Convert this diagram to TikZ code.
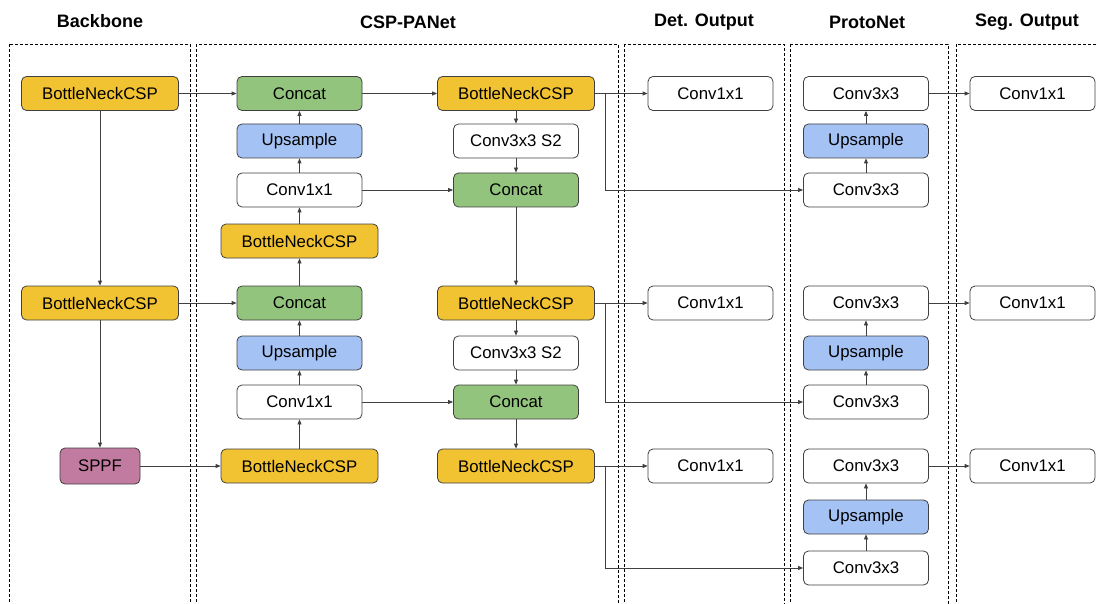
\documentclass[tikz,border=0pt]{standalone}
\usepackage{fontspec}
\setmainfont{Liberation Sans}
\usepackage{xcolor}
\usetikzlibrary{arrows.meta}

\definecolor{cspyellow}{HTML}{F1C232}
\definecolor{catgreen}{HTML}{93C47D}
\definecolor{upblue}{HTML}{A4C2F4}
\definecolor{sppfpink}{HTML}{C27BA0}
\definecolor{linegray}{HTML}{404040}

\begin{document}
\begin{tikzpicture}[x=1pt,y=-1pt]
            \tikzset{block/.style = {draw=linegray, line width=0.8pt, rounded corners=5pt, minimum width=125pt, minimum height=34pt, inner sep=0pt, font=\fontsize{16.8}{20}\selectfont}}
            \tikzset{csp/.style = {block, fill=cspyellow, minimum width=157pt}}
            \tikzset{concat/.style = {block, fill=catgreen}}
            \tikzset{upsample/.style = {block, fill=upblue}}
            \tikzset{conv/.style = {block, fill=white}}
            \tikzset{edge/.style = {draw=linegray, line width=0.8pt, -{Triangle[length=5pt,width=4pt]}}}
            \tikzset{stage/.style = {draw=black, dash pattern=on 3pt off 2pt, line width=0.7pt}}
            \tikzset{title/.style = {font=\bfseries\fontsize{18}{21}\selectfont}}

            \useasboundingbox (0,0) rectangle (1097,604);

            % stages
            \draw[stage] (9,44) rectangle (190,620);
            \draw[stage] (196,44) rectangle (618,620);
            \draw[stage] (624,44) rectangle (784,620);
            \draw[stage] (790,44) rectangle (948,620);
            \draw[stage] (956,44) rectangle (1110,620);
            \node[title] (tbb) at (100,21) {Backbone};
            \node[title] (tpan) at (408,22) {CSP-PANet};
            \node[title] (tdet) at (704,22) {Det. Output};
            \node[title] (tproto) at (867,22) {ProtoNet};
            \node[title] (tseg) at (1027,22) {Seg. Output};

            % backbone
            \node[csp] (bb1) at (100,93.5) {BottleNeckCSP};
            \node[csp] (bb2) at (100,303) {BottleNeckCSP};
            \node[block, fill=sppfpink, minimum width=80pt, minimum height=36pt] (sppf) at (100,466) {SPPF};

            % top-down path
            \node[concat] (cat1) at (299.5,93.5) {Concat};
            \node[upsample] (up1) at (299.5,141) {Upsample};
            \node[conv] (lat1) at (299.5,190) {Conv1x1};
            \node[csp] (csp1) at (299.5,241) {BottleNeckCSP};
            \node[concat] (cat2) at (299.5,303) {Concat};
            \node[upsample] (up2) at (299.5,353) {Upsample};
            \node[conv] (lat2) at (299.5,402) {Conv1x1};
            \node[csp] (csp2) at (299.5,466) {BottleNeckCSP};

            % bottom-up path
            \node[csp] (out1) at (516,93.5) {BottleNeckCSP};
            \node[conv] (down1) at (516,141) {Conv3x3 S2};
            \node[concat] (cat3) at (516,190) {Concat};
            \node[csp] (out2) at (516,303) {BottleNeckCSP};
            \node[conv] (down2) at (516,353) {Conv3x3 S2};
            \node[concat] (cat4) at (516,402) {Concat};
            \node[csp] (out3) at (516,466) {BottleNeckCSP};

            % heads
            \foreach \i/\ya/\yb/\yc in {1/93.5/141/190, 2/303/353/402, 3/466/517/568}
            {
              \node[conv] (det\i) at (710.5,\ya) {Conv1x1};
              \node[conv] (pa\i) at (866,\ya) {Conv3x3};
              \node[upsample] (pu\i) at (866,\yb) {Upsample};
              \node[conv] (pb\i) at (866,\yc) {Conv3x3};
              \node[conv] (seg\i) at (1032.5,\ya) {Conv1x1};
            }

            % edges
            \draw[edge] (bb1) -- (bb2);
            \draw[edge] (bb2) -- (sppf);
            \draw[edge] (bb1) -- (cat1);
            \draw[edge] (bb2) -- (cat2);
            \draw[edge] (sppf) -- (csp2);
            \foreach \a/\b in {csp2/lat2, lat2/up2, up2/cat2, cat2/csp1, csp1/lat1, lat1/up1, up1/cat1} {\draw[edge] (\a) -- (\b);}
            \draw[edge] (cat1) -- (out1);
            \foreach \a/\b in {out1/down1, down1/cat3, cat3/out2, out2/down2, down2/cat4, cat4/out3} {\draw[edge] (\a) -- (\b);}
            \draw[edge] (lat1) -- (cat3);
            \draw[edge] (lat2) -- (cat4);
            \foreach \i in {1,2,3}
            {
              \draw[edge] (out\i) -- (det\i);
              \draw[edge] (out\i.east) -- ++(10,0) |- (pb\i);
              \draw[edge] (pb\i) -- (pu\i);
              \draw[edge] (pu\i) -- (pa\i);
              \draw[edge] (pa\i) -- (seg\i);
            }

          \end{tikzpicture}
\end{document}
